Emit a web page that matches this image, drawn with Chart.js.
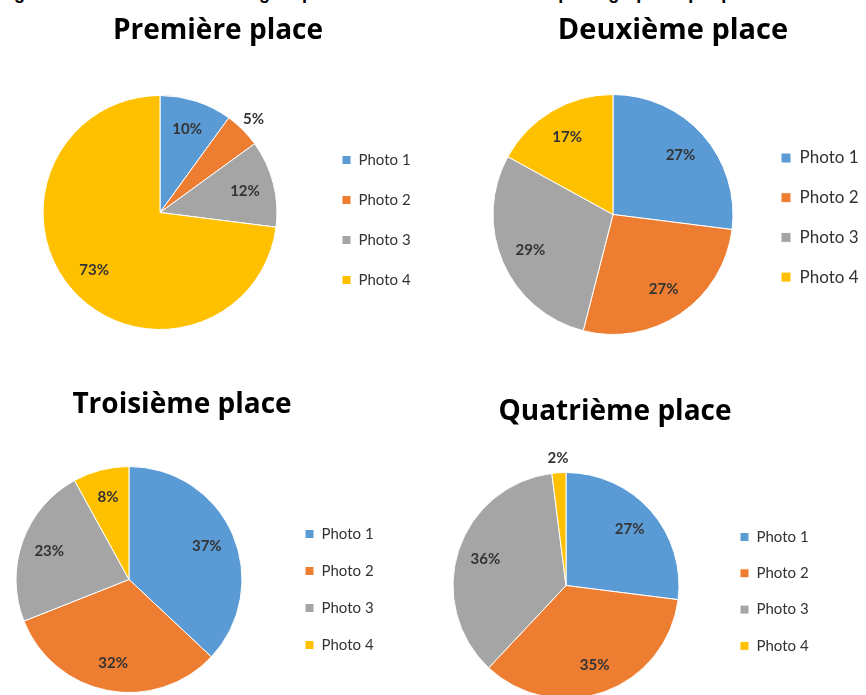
<!DOCTYPE html>
<html lang="fr">
<head>
<meta charset="utf-8">
<title>Classement des photographies</title>
<script src="https://cdn.jsdelivr.net/npm/chart.js@4.4.1/dist/chart.umd.min.js"></script>
<style>
  html, body { margin: 0; padding: 0; background: #fff; }
  body { position: relative; width: 866px; height: 695px; overflow: hidden; }
  .caption {
    position: absolute; left: -2px; top: -16px; white-space: nowrap;
    font: bold 18px/18px "Liberation Sans", Arial, sans-serif; color: #000;
  }
  canvas { position: absolute; }
</style>
</head>
<body>
<div class="caption">Figure 11 : Résultats du sondage représentant le classement des photographies par place</div>
<canvas id="place1"></canvas>
<canvas id="place2"></canvas>
<canvas id="place3"></canvas>
<canvas id="place4"></canvas>
<script>
    "use strict";

    // Categories and vote shares (%) for each ranking
    var photos = ["Photo 1", "Photo 2", "Photo 3", "Photo 4"];
    var titles = ["Première place", "Deuxième place", "Troisième place", "Quatrième place"];
    var premiere = [10, 5, 12, 73];
    var deuxieme = [27, 27, 29, 17];
    var troisieme = [37, 32, 23, 8];
    var quatrieme = [27, 35, 36, 2];

    var colors = ["#5b9bd5", "#ed7d31", "#a5a5a5", "#ffc000"];
    var TITLE_SIZE = 28;

    // Where each pie sits on the page
    var frames = [
        { id: "place1", values: premiere, left: 0, top: 0, cx: 160, cy: 212, r: 117, titleX: 218, titleY: 31, titleSize: 28, legendX: 342, rowY: 160, rowGap: 40, legendFont: 15, box: 9 },
        { id: "place2", values: deuxieme, left: 433, top: 0, cx: 613, cy: 214, r: 120, titleX: 673, titleY: 31, titleSize: 29, legendX: 781, rowY: 158, rowGap: 39.7, legendFont: 17, box: 10 },
        { id: "place3", values: troisieme, left: -40, top: 350, cx: 129, cy: 579, r: 113, titleX: 182, titleY: 405, titleSize: 28, legendX: 305, rowY: 534, rowGap: 37, legendFont: 15, box: 9 },
        { id: "place4", values: quatrieme, left: 405, top: 350, cx: 566, cy: 585, r: 113, titleX: 615, titleY: 412, titleSize: 28, legendX: 740, rowY: 537, rowGap: 36.3, legendFont: 15, box: 9 }
    ];

    // Legend with a fixed width, moved to a given row position after layout
    var legendPlacer = {
        id: "legendPlacer",
        beforeUpdate: function (chart, args, opts) {
            var lg = chart.legend;
            if (!lg || lg._patched) return;
            var fit = lg.fit;
            lg.fit = function () {
                fit.call(this);
                this.width = opts.width;
            };
            lg._patched = true;
        },
        afterLayout: function (chart, args, opts) {
            var lg = chart.legend;
            var h = lg.height;
            lg.top = opts.top;
            lg.bottom = opts.top + h;
        }
    };

    // Percent labels inside the slices (outside for the thin ones)
    var sliceLabels = {
        id: "sliceLabels",
        afterDatasetsDraw: function (chart, args, opts) {
            var ctx = chart.ctx;
            var meta = chart.getDatasetMeta(0);
            var values = chart.data.datasets[0].data;
            ctx.save();
            ctx.font = opts.font;
            ctx.fillStyle = opts.color;
            ctx.textAlign = "center";
            ctx.textBaseline = "middle";
            meta.data.forEach(function (arc, i) {
                var p = arc.getProps(["x", "y", "startAngle", "endAngle", "outerRadius"], true);
                var mid = (p.startAngle + p.endAngle) / 2;
                var k = values[i] < 6 ? 1.13 : 0.75;
                ctx.fillText(values[i] + "%", p.x + Math.cos(mid) * p.outerRadius * k, p.y + Math.sin(mid) * p.outerRadius * k);
            });
            ctx.restore();
        }
    };

    frames.forEach(function (f, n) {
        var lh = f.titleSize * 1.2;
        var pad = f.rowGap - f.legendFont;
        var areaLeft = 2 * f.cx - (f.legendX - pad);
        var bandRight = 2 * f.titleX - areaLeft;
        var width = Math.ceil(bandRight - f.left) + 4;
        var areaTop = f.cy - f.r;
        var areaBottom = f.cy + f.r + 1;
        var height = Math.ceil(areaBottom - f.top) + 6;
        var titleTop = f.titleY - f.top - lh / 2;
        var titleBottom = areaTop - f.top - titleTop - lh;

        var canvas = document.getElementById(f.id);
        canvas.width = width;
        canvas.height = height;
        canvas.style.left = f.left + "px";
        canvas.style.top = f.top + "px";

        new Chart(canvas.getContext("2d"), {
            type: "pie",
            data: {
                labels: photos,
                datasets: [{
                    data: f.values,
                    backgroundColor: colors,
                    borderColor: "#ffffff",
                    borderWidth: 1,
                    hoverOffset: 0
                }]
            },
            options: {
                responsive: false,
                animation: false,
                layout: {
                    padding: {
                        left: areaLeft - f.left,
                        right: f.left + width - bandRight,
                        top: 0,
                        bottom: height - (areaBottom - f.top)
                    }
                },
                plugins: {
                    title: {
                        display: true,
                        text: titles[n],
                        color: "#000000",
                        font: { family: "'Open Sans'", size: f.titleSize, weight: "bold", lineHeight: 1.2 },
                        padding: { top: titleTop, bottom: titleBottom }
                    },
                    legend: {
                        position: "right",
                        align: "start",
                        labels: {
                            boxWidth: f.box,
                            boxHeight: f.box,
                            padding: pad,
                            color: "#333333",
                            font: { family: "Lato", size: f.legendFont }
                        }
                    },
                    tooltip: { enabled: false },
                    legendPlacer: {
                        width: bandRight - (f.legendX - pad),
                        top: f.rowY - f.top - f.legendFont / 2 - pad
                    },
                    sliceLabels: {
                        font: "bold 15px Lato",
                        color: "#333333"
                    }
                }
            },
            plugins: [legendPlacer, sliceLabels]
        });
    });
</script>
</body>
</html>
